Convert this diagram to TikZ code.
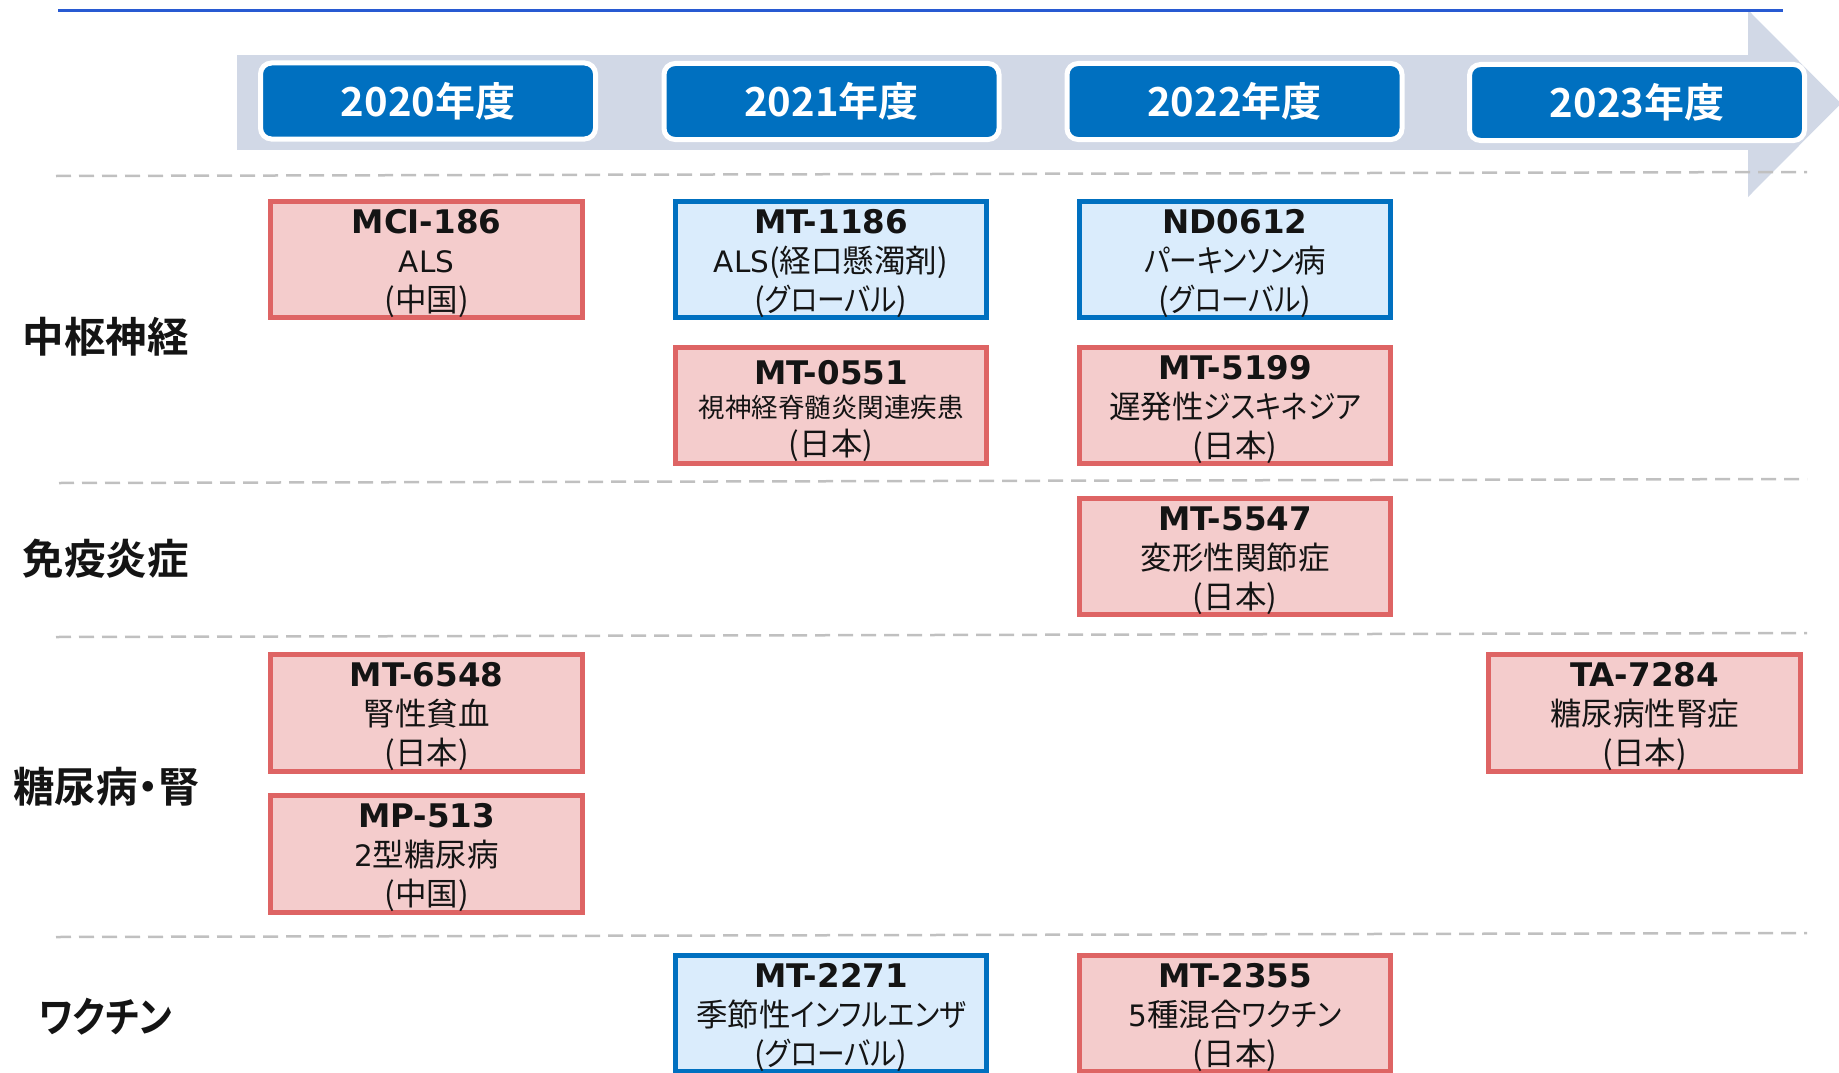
\documentclass[tikz,border=0pt]{standalone}
\usepackage{fontspec}
\newfontfamily\jp[RawFeature=+palt]{Noto Sans CJK JP}
\newfontfamily\jpk[RawFeature=+palt,FakeStretch=0.88]{Noto Sans CJK JP}
\newfontfamily\jpn{Noto Sans CJK JP}
\newfontfamily\jpb[RawFeature=+palt]{Noto Sans CJK JP Bold}
\newfontfamily\jpbk[RawFeature=+palt,FakeStretch=0.87]{Noto Sans CJK JP Bold}
\newfontfamily\jph{Noto Sans CJK JP Bold}
\newfontfamily\idf{DejaVu Sans Bold}
\newfontfamily\ltf{DejaVu Sans}
\newcommand{\kn}[1]{{\jpk #1}}
\newcommand{\lt}[1]{{\ltf\fontsize{29.5}{39}\selectfont #1}}
\definecolor{band}{RGB}{209,216,230}
\definecolor{hdrblue}{RGB}{0,112,192}
\definecolor{redfill}{RGB}{244,204,204}
\definecolor{redline}{RGB}{222,100,100}
\definecolor{bluefill}{RGB}{218,236,252}
\definecolor{blueline}{RGB}{0,112,192}
\definecolor{topline}{RGB}{40,90,210}
\definecolor{dashgray}{RGB}{192,192,192}
\definecolor{ink}{RGB}{20,20,20}
\tikzset{
  prog/.style={minimum width=311.5pt, minimum height=116.5pt, inner sep=0pt, line width=4.8pt},
  redbox/.style={prog, draw=redline, fill=redfill},
  bluebox/.style={prog, draw=blueline, fill=bluefill},
  progtext/.style={inner sep=0pt, align=center, text=ink, font=\fontsize{31.5}{39}\selectfont},
  yearbox/.style={draw=white, fill=hdrblue, line width=5pt, rounded corners=11pt,
    minimum width=335pt, minimum height=76pt, inner sep=0pt, text=white,
    font=\jph\fontsize{40}{40}\selectfont},
  catlabel/.style={inner sep=0pt, text=ink, font=\jpb\fontsize{41.5}{41.5}\selectfont},
  sep/.style={draw=dashgray, line width=2.5pt, dash pattern=on 15pt off 8pt},
}
\newcommand{\prg}[4]{%
  \node[progtext] (#1-t) at ([yshift=-4pt]#1.center) {{\idf\fontsize{32.5}{39}\selectfont #2}\\{\jp #3}\\{\jp #4}};}
\begin{document}
\begin{tikzpicture}[x=1pt,y=-1pt]
\useasboundingbox (0,0) rectangle (1839,1073);
% timeline arrow
\fill[band] (237,55) rectangle (1748,150);
\fill[band] (1748,10) -- (1841,103.5) -- (1748,197) -- cycle;
% top line
\draw[topline, line width=3pt] (58,11) -- (1783,11);
% year headers
\node[yearbox] (y2020) at (428,101) {2020年度};
\node[yearbox] (y2021) at (831.5,101.5) {2021年度};
\node[yearbox] (y2022) at (1234.5,101.5) {2022年度};
\node[yearbox] (y2023) at (1637,102.5) {2023年度};
% separators
\draw[sep] (56,176) -- (1807,172);
\draw[sep] (59,483) -- (1807,479);
\draw[sep] (56,637) -- (1807,633);
\draw[sep] (56,937) -- (1807,933);
% category labels
\node[catlabel] (c1) at (105.5,337) {中枢神経};
\node[catlabel] (c2) at (105.5,559) {免疫炎症};
\node[catlabel] (c3) at (106.5,787) {糖尿病・腎};
\node[catlabel, font=\jpbk\fontsize{41.5}{41.5}\selectfont] (c4) at (105.5,1017) {ワクチン};
% programs
\node[redbox] (mci186) at (426.5,259.5) {};
\node[bluebox] (mt1186) at (831,259.5) {};
\node[bluebox] (nd0612) at (1235,259.5) {};
\node[redbox] (mt0551) at (831,405.5) {};
\node[redbox] (mt5199) at (1235,405.5) {};
\node[redbox] (mt5547) at (1235,556.5) {};
\node[redbox] (mt6548) at (426.5,713) {};
\node[redbox] (ta7284) at (1644.5,713) {};
\node[redbox] (mp513) at (426.5,854) {};
\node[bluebox] (mt2271) at (831,1013.5) {};
\node[redbox] (mt2355) at (1235,1013.5) {};
\prg{mci186}{MCI-186}{\lt{ALS}}{(中国)}
\prg{mt1186}{MT-1186}{\lt{ALS}(経口懸濁剤)}{(\kn{グローバル})}
\prg{nd0612}{ND0612}{\kn{パーキンソン}病}{(\kn{グローバル})}
\node[progtext] (mt0551-t) at ([yshift=-5.5pt]mt0551.center)
  {{\idf\fontsize{32.5}{39}\selectfont MT-0551}\\[-6pt]{\jpn\fontsize{26.5}{26.5}\selectfont 視神経脊髄炎関連疾患}\\[-1pt]{\jp (日本)}};
\prg{mt5199}{MT-5199}{遅発性\kn{ジスキネジア}}{(日本)}
\prg{mt5547}{MT-5547}{変形性関節症}{(日本)}
\prg{mt6548}{MT-6548}{腎性貧血}{(日本)}
\prg{ta7284}{TA-7284}{糖尿病性腎症}{(日本)}
\prg{mp513}{MP-513}{\lt{2}型糖尿病}{(中国)}
\prg{mt2271}{MT-2271}{季節性\kn{インフルエンザ}}{(\kn{グローバル})}
\prg{mt2355}{MT-2355}{\lt{5}種混合\kn{ワクチン}}{(日本)}
\end{tikzpicture}
\end{document}
